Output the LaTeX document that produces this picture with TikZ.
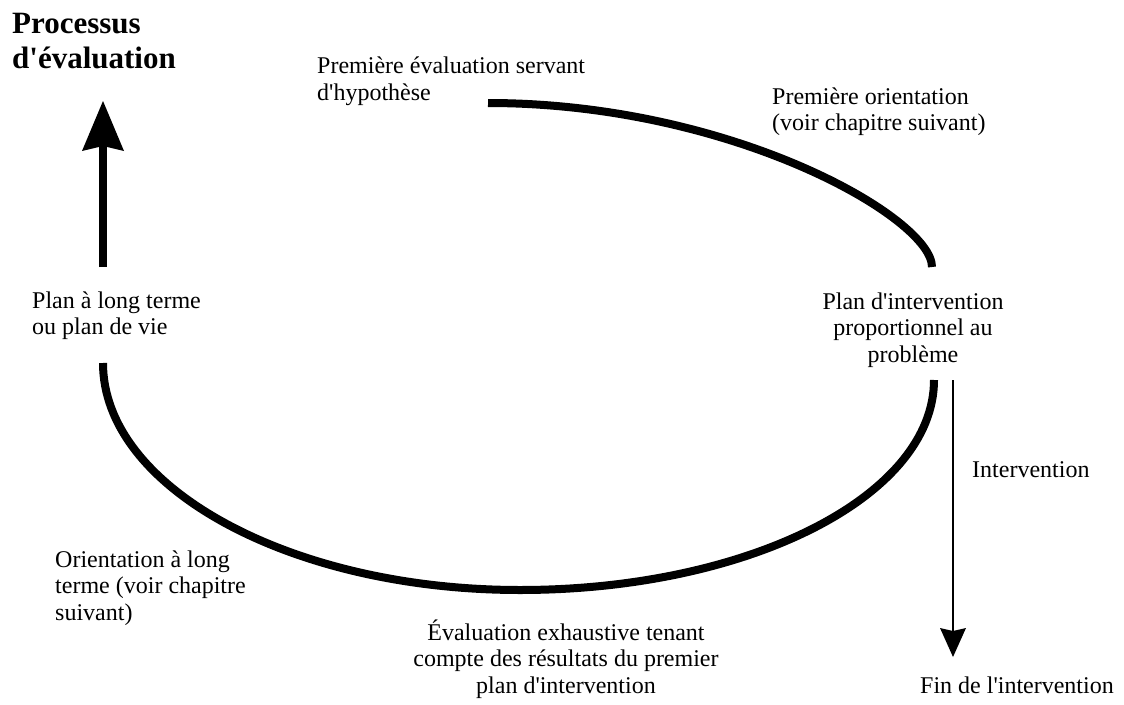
\documentclass[tikz,border=0pt]{standalone}
\usepackage{fontspec}
\setmainfont{Liberation Serif}[Ligatures=TeXOff]
\usetikzlibrary{arrows.meta}
\begin{document}
\begin{tikzpicture}[x=1pt,y=-1pt,
  lbl/.style={inner sep=0pt,font=\fontsize{24}{26.5}\selectfont},
  ttl/.style={inner sep=0pt,font=\fontsize{31}{35}\selectfont\bfseries},
  cycle/.style={line width=8pt},
  bigarrow/.style={line width=8pt,-{Stealth[length=50pt,width=42pt,inset=5pt,line width=0pt]}},
  thinarrow/.style={line width=2pt,-{Stealth[length=29pt,width=26pt,inset=3pt,line width=0pt]}}]
\useasboundingbox (0,0) rectangle (1124,704);

% labels (the base anchor sits on the last line)
\node[ttl,anchor=base west,align=left] (title) at (12,68) {Processus\\d'évaluation};
\node[lbl,anchor=base west,align=left] (hyp) at (317,100) {Première évaluation servant\\d'hypothèse};
\node[lbl,anchor=base west,align=left] (orient) at (772,130.5) {Première orientation\\(voir chapitre suivant)};
\node[lbl,anchor=base west,align=left] (longplan) at (32,334.5) {Plan à long terme\\ou plan de vie};
\node[lbl,anchor=base,align=center] (plan) at (913,362) {Plan d'intervention\\proportionnel au\\problème};
\node[lbl,anchor=base west,align=left] (longorient) at (55,620) {Orientation à long\\terme (voir chapitre\\suivant)};
\node[lbl,anchor=base,align=center] (exhaust) at (566,693) {Évaluation exhaustive tenant\\compte des résultats du premier\\plan d'intervention};
\node[lbl,anchor=base west] (interv) at (972,477) {Intervention};
\node[lbl,anchor=base east] (fin) at (1114,693) {Fin de l'intervention};

% ends of the connectors
\coordinate (topL) at (488,103);
\coordinate (topR) at (932,267);
\coordinate (botL) at (103,363);
\coordinate (botB) at (520,590);
\coordinate (botR) at (934,380);
\coordinate (upS) at (103,267);
\coordinate (upE) at (103,101);
\coordinate (downS) at (953,380);
\coordinate (downE) at (953,657);

% evaluation cycle
\draw[cycle] (topL) .. controls (732,103) and (932,218) .. (topR);
\draw[cycle] (botL) .. controls (103,488) and (291,590) .. (botB)
                    .. controls (749,590) and (934,496) .. (botR);

% arrows
\draw[bigarrow] (upS) -- (upE);
\draw[thinarrow] (downS) -- (downE);
\end{tikzpicture}
\end{document}
